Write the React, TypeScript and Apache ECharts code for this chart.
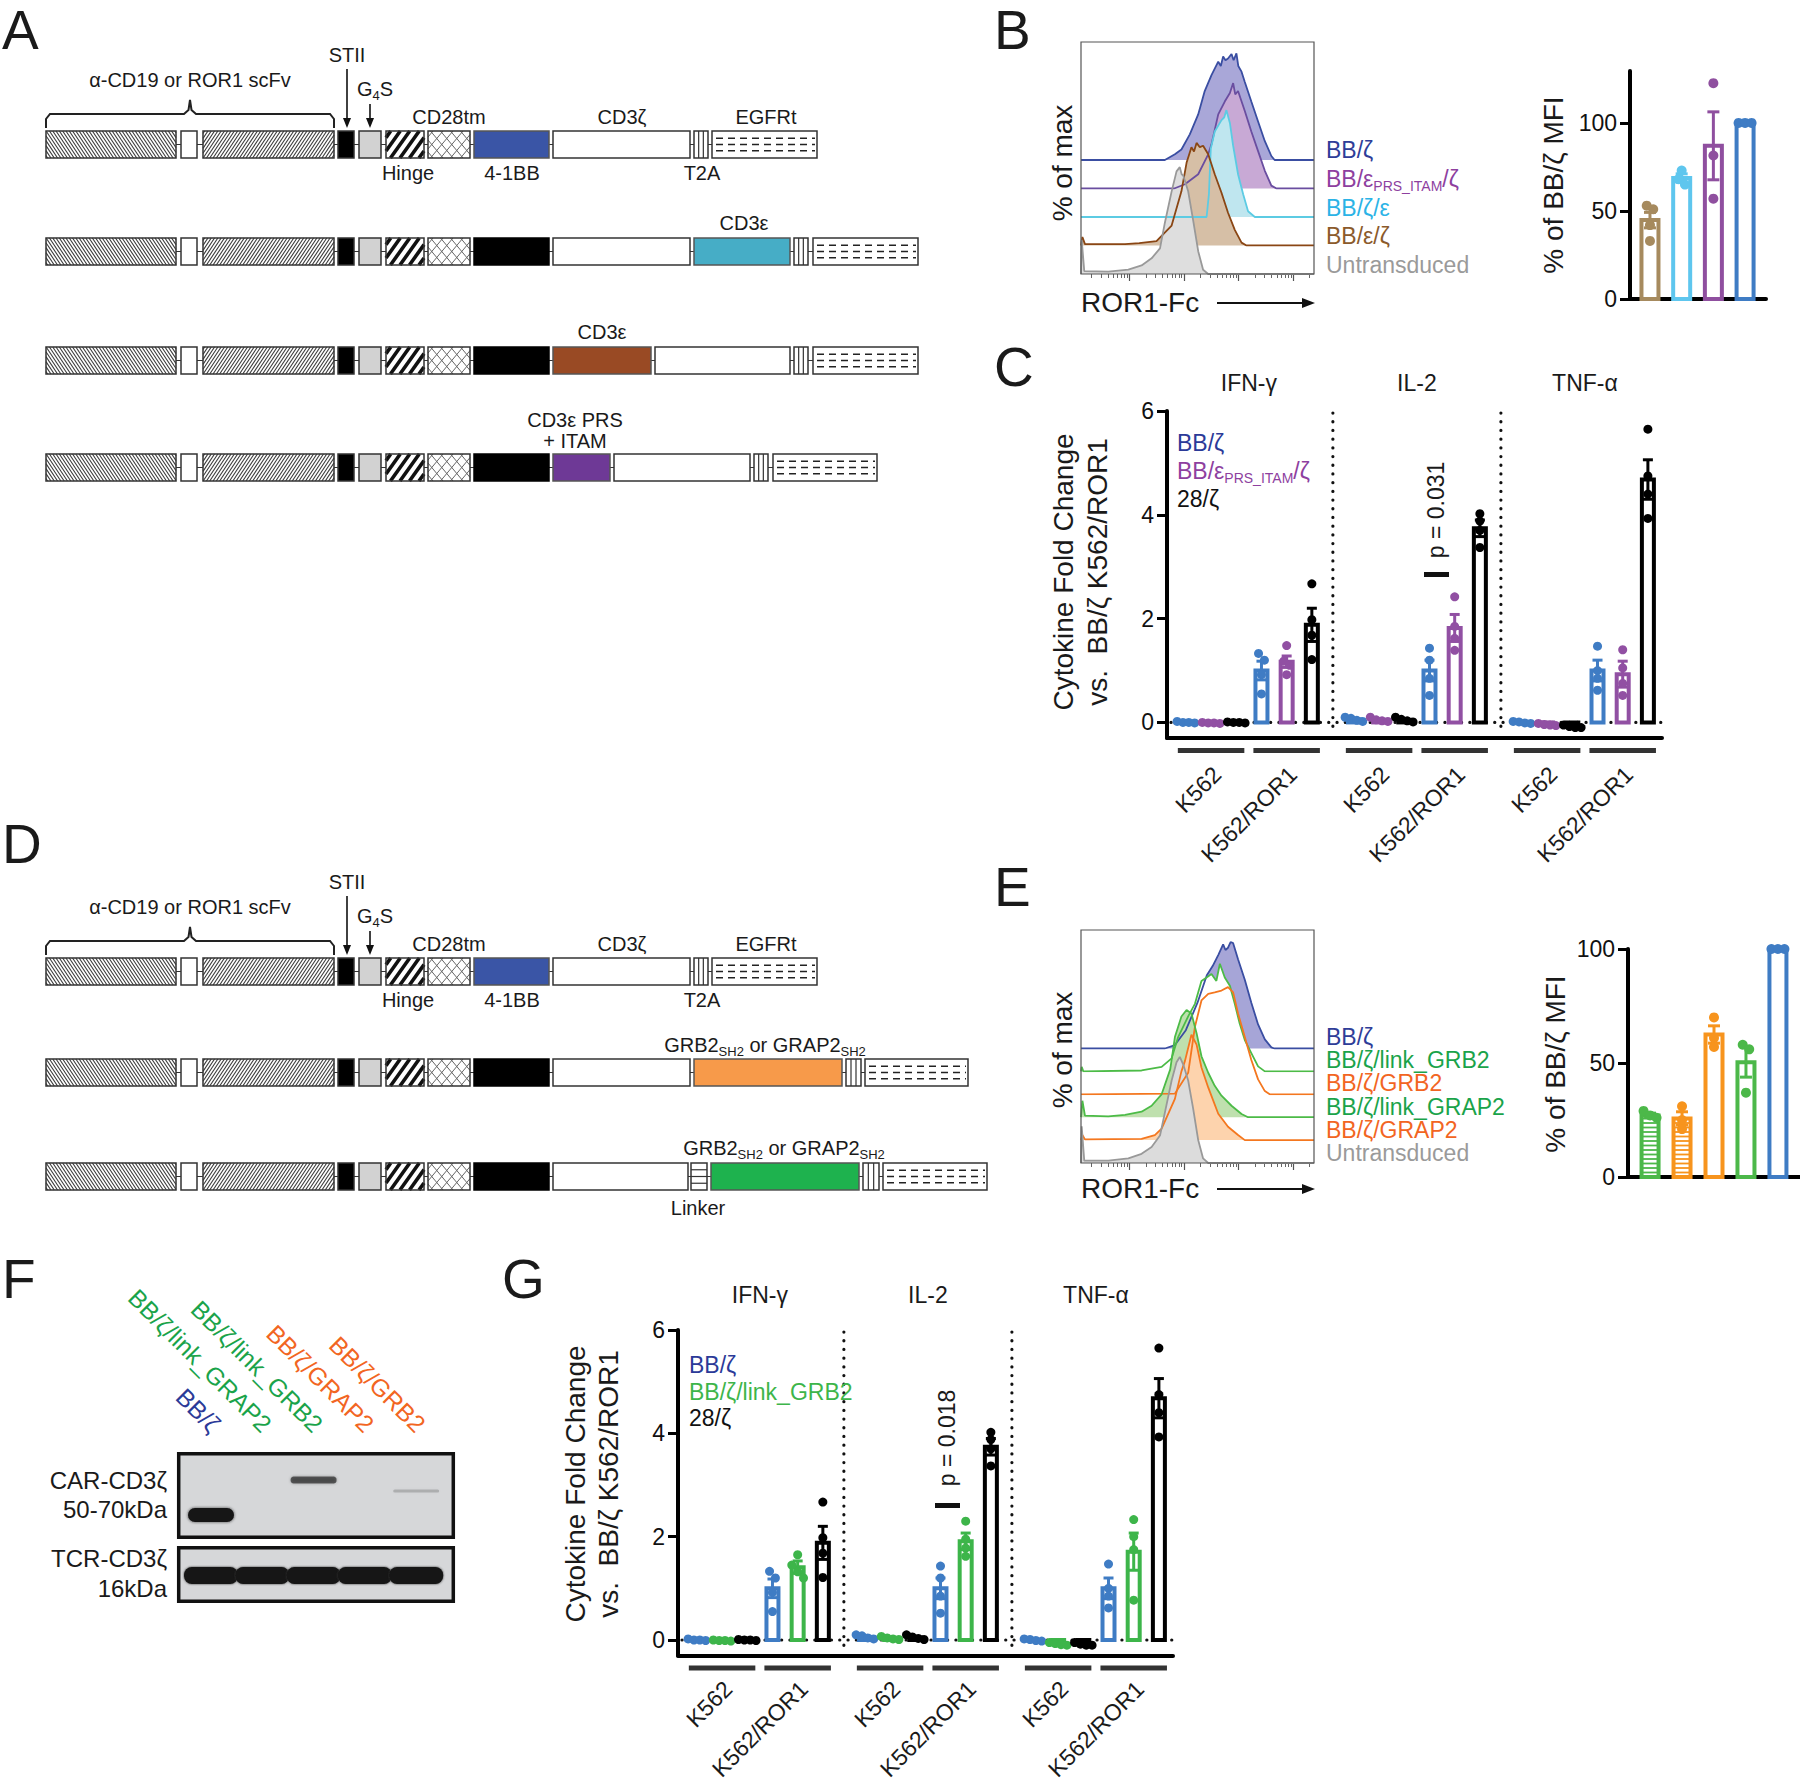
import React, { useEffect, useRef } from "react";
import * as echarts from "echarts";

const FONT = "'Liberation Sans', Arial, Helvetica, sans-serif";

// ================= DATA =================
// Panel B – ROR1-Fc histograms (channel 0-100, height in offset-steps)
const bLegend = ["BB/ζ", "BB/ε{s|PRS_ITAM}/ζ", "BB/ζ/ε", "BB/ε/ζ", "Untransduced"];
const bLegendColors = ["#2e3d98", "#8e3f9f", "#2bb3e6", "#8b5a2b", "#9a9a9a"];
const bHistBlue = [[0, 0], [36, 0], [40.3, 0.2], [43.1, 0.37], [46.7, 0.9], [50.3, 1.6], [53.1, 2.42], [56, 2.98], [58.9, 3.45], [60, 3.3], [61, 3.63], [62, 3.5], [63.1, 3.56], [64.6, 3.72], [65.5, 3.5], [66.7, 3.74], [67.5, 3.3], [68.9, 3.1], [70.3, 2.74], [73.1, 2.05], [76, 1.35], [78.9, 0.66], [81.7, 0.14], [83.1, 0], [100, 0]];
const bHistPurple = [[0, 0], [40, 0], [44.6, 0.15], [50.3, 0.5], [54.6, 1.2], [56, 1.55], [58.9, 2.6], [61.7, 3.05], [63.9, 3.35], [65.3, 3.7], [66.2, 3.3], [67.4, 3.42], [70.3, 2.72], [73.1, 2.0], [76, 1.31], [78.9, 0.62], [81.7, 0.1], [83.9, 0], [100, 0]];
const bHistCyan = [[0, 0], [53.9, 0], [54.9, 0.8], [55.7, 2.4], [57.4, 3.0], [60.3, 3.4], [61.5, 3.5], [62.4, 3.75], [63.9, 3.3], [65.3, 2.5], [67.4, 1.5], [69.6, 0.8], [71.7, 0.2], [74.6, 0], [100, 0]];
const bHistBrown = [[0, 0], [0.6, 0.3], [1.7, 0.05], [18.9, 0.05], [25, 0.08], [32.4, 0.15], [38.9, 0.7], [43.1, 1.9], [45.3, 2.9], [47.4, 3.45], [48.5, 3.3], [49.6, 3.6], [51, 3.45], [52.4, 3.5], [54.6, 3.2], [57.4, 2.5], [60.3, 1.85], [63.1, 1.15], [66, 0.55], [68.9, 0.1], [71, 0], [100, 0]];
const bHistGrey = [[0, 0], [0.3, 1.2], [1.4, 0.1], [11.7, 0.08], [20.3, 0.15], [26, 0.3], [30.3, 0.55], [33.9, 0.9], [36, 1.8], [38.9, 2.9], [41, 3.6], [42.4, 3.75], [43.2, 3.5], [43.9, 3.45], [46, 2.9], [48.1, 1.9], [50.3, 0.8], [52.4, 0.15], [54.6, 0], [100, 0]];

// Panel B – % of BB/ζ MFI
const bBarCats = ["BB/ε/ζ", "BB/ζ/ε", "BB/εPRS_ITAM/ζ", "BB/ζ"];
const bBarMeans = [44.8, 68.7, 87, 100];
const bBarSem = [4.4, 2.4, 19.3, 0];
const bBarDots = [[53, 51, 42, 33], [73, 68, 65], [122.6, 81.5, 57], [100, 100, 100]];
const bBarColors = ["#a68a5e", "#5ec6ee", "#8f4f9f", "#3f7cc4"];

// Panel C / G – cytokine fold change
const cytokines = ["IFN-γ", "IL-2", "TNF-α"];
const targetCells = ["K562", "K562/ROR1"];
const cConstructs = ["BB/ζ", "BB/εPRS_ITAM/ζ", "28/ζ"];
const cMeans = [0.01, -0.01, 0.0, 1.0, 1.17, 1.88, 0.06, 0.05, 0.05, 1.0, 1.82, 3.74, 0.0, -0.04, -0.08, 1.0, 0.93, 4.68];
const cSem = [0, 0, 0, 0.18, 0.11, 0.32, 0.02, 0.02, 0.02, 0.2, 0.26, 0.16, 0.01, 0.01, 0.01, 0.2, 0.25, 0.38];
const cDots = [
  [0.02, 0.0, 0.0, -0.01], [0.0, -0.01, -0.02, -0.01], [0.01, 0.0, -0.01, 0.0],
  [1.33, 1.2, 0.92, 0.55], [1.48, 1.18, 1.1, 0.92], [2.67, 1.98, 1.68, 1.21],
  [0.1, 0.08, 0.04, 0.02], [0.1, 0.05, 0.03, 0.02], [0.1, 0.06, 0.03, 0.01],
  [1.43, 1.2, 0.85, 0.52], [2.42, 1.85, 1.62, 1.39], [4.02, 3.88, 3.7, 3.37],
  [0.02, 0.01, -0.01, -0.02], [-0.02, -0.04, -0.05, -0.06], [-0.05, -0.08, -0.1, -0.1],
  [1.47, 1.0, 0.85, 0.62], [1.4, 1.05, 0.75, 0.52], [5.65, 4.75, 4.4, 3.93],
];
const gConstructs = ["BB/ζ", "BB/ζ/link_GRB2", "28/ζ"];
const gMeans = [0.0, -0.01, 0.0, 1.0, 1.41, 1.88, 0.06, 0.03, 0.05, 1.0, 1.91, 3.74, 0.0, -0.08, -0.08, 1.0, 1.71, 4.68];
const gSem = [0, 0, 0, 0.18, 0.12, 0.32, 0.02, 0.01, 0.02, 0.2, 0.16, 0.16, 0.01, 0.01, 0.01, 0.2, 0.36, 0.38];
const gDots = [
  [0.02, 0.0, 0.0, -0.01], [0.0, -0.01, -0.01, -0.02], [0.01, 0.0, -0.01, 0.0],
  [1.33, 1.2, 0.92, 0.55], [1.65, 1.45, 1.32, 1.2], [2.67, 1.98, 1.68, 1.21],
  [0.1, 0.08, 0.04, 0.02], [0.07, 0.04, 0.02, 0.01], [0.1, 0.06, 0.03, 0.01],
  [1.43, 1.2, 0.85, 0.52], [2.3, 1.95, 1.78, 1.62], [4.02, 3.88, 3.7, 3.37],
  [0.02, 0.01, -0.01, -0.02], [-0.05, -0.07, -0.09, -0.1], [-0.05, -0.08, -0.1, -0.1],
  [1.47, 1.0, 0.85, 0.62], [2.33, 2.0, 1.75, 0.77], [5.65, 4.75, 4.4, 3.93],
];
const cYTicks = [0, 2, 4, 6];

// Panel E – histograms
const eLegend = ["BB/ζ", "BB/ζ/link_GRB2", "BB/ζ/GRB2", "BB/ζ/link_GRAP2", "BB/ζ/GRAP2", "Untransduced"];
const eLegendColors = ["#2e3d98", "#1aa34a", "#f26522", "#1aa34a", "#f26522", "#9a9a9a"];
const eHistBlue = [[0, 0], [36, 0], [40.3, 0.15], [45, 0.8], [50, 2.0], [54, 3.2], [56.5, 3.6], [59, 4.1], [61, 4.55], [62, 4.3], [63.1, 4.4], [64.2, 4.65], [65.3, 4.6], [67.4, 3.9], [70.3, 3.0], [73.1, 2.0], [76, 1.05], [78.9, 0.4], [81.7, 0.05], [83, 0], [100, 0]];
const eHistLinkGrb2 = [[0, 0], [0.3, 0.2], [1, 0], [26, 0.04], [34.6, 0.2], [38.9, 0.57], [41.7, 1.5], [46, 2.4], [48.9, 2.95], [51.7, 3.95], [53.9, 4.1], [56, 4.25], [58.1, 3.95], [59.6, 4.7], [61.7, 4.1], [63.9, 3.74], [66, 2.95], [68.1, 2.09], [70.3, 1.37], [73.1, 0.8], [76, 0.22], [78.9, 0], [100, 0]];
const eHistGrb2 = [[0, 0], [40.3, 0.03], [46, 0.94], [48.9, 2.95], [51.7, 4.1], [54.6, 4.39], [57.4, 4.45], [60.3, 4.53], [63.1, 4.68], [65.3, 4.45], [67.4, 3.53], [70.3, 2.5], [73.1, 1.5], [76, 0.65], [78.9, 0.14], [81, 0], [100, 0]];
const eHistLinkGrap2 = [[0, 0], [0.6, 0.72], [1.7, 0.07], [11.7, 0.04], [18.9, 0.1], [26, 0.24], [30.3, 0.5], [34.6, 1.0], [38.3, 2.09], [40.3, 3.5], [43.1, 4.4], [45.3, 4.68], [47.4, 4.53], [49.6, 3.67], [51.7, 2.66], [54.6, 1.94], [57.4, 1.37], [60.3, 0.94], [64.6, 0.5], [68.9, 0.14], [71.7, 0], [100, 0]];
const eHistGrap2 = [[0, 0], [0.6, 0.22], [1.7, 0.03], [26, 0.05], [31.7, 0.22], [34.6, 0.5], [40.3, 1.8], [43.1, 3.0], [44.6, 3.45], [47.4, 4.6], [49.6, 4.17], [51.7, 3.17], [54.6, 2.3], [58.9, 1.15], [63.1, 0.58], [67.4, 0.22], [70.3, 0], [100, 0]];
const eHistGrey = [[0, 0], [0.3, 1.6], [1.4, 0.1], [11.7, 0.1], [20.3, 0.2], [26, 0.4], [30.3, 0.7], [33.9, 1.2], [36, 2.2], [38.9, 3.6], [41, 4.4], [42.4, 4.63], [43.9, 4.3], [46, 3.6], [48.1, 2.4], [50.3, 1.0], [52.4, 0.2], [54.6, 0], [100, 0]];

// Panel E – % of BB/ζ MFI
const eBarCats = ["BB/ζ/link_GRAP2", "BB/ζ/GRAP2", "BB/ζ/GRB2", "BB/ζ/link_GRB2", "BB/ζ"];
const eBarMeans = [27, 25.7, 62.5, 50.3, 100];
const eBarSem = [1, 2.9, 3.8, 6.5, 0];
const eBarDots = [[29, 27, 26], [31, 25, 21], [70, 61, 57], [58, 56, 37], [100, 100, 100]];
const eBarColors = ["#4cb849", "#f7941d", "#f7941d", "#4cb849", "#3f7cc4"];
const eBarHatched = [true, true, false, false, false];

// Panel F – western blot
const blotLanes = ["BB/ζ", "BB/ζ/link_GRAP2", "BB/ζ/link_GRB2", "BB/ζ/GRAP2", "BB/ζ/GRB2"];
const blotLaneColors = ["#2b3a98", "#1aa34a", "#1aa34a", "#f26522", "#f26522"];
const carBandIntensity = [1.0, 0.0, 0.6, 0.0, 0.18];
const carBandY = [1515, 0, 1480, 0, 1491];

// ================= HELPERS =================
function T(text: string, x: number, y: number, o: any = {}) {
  const align = o.align || "center";
  const va = o.va || "middle";
  return {
    type: "text", x, y, rotation: o.rot || 0, z: 60, silent: true,
    style: {
      text, fill: o.color || "#1a1a1a", fontSize: o.size || 20, fontFamily: FONT,
      fontWeight: o.weight || "normal", textAlign: align, textVerticalAlign: va, align, verticalAlign: va,
      rich: o.rich,
    },
  };
}
function subRich(size: number, color: string, drop: number, family = FONT) {
  return { s: { fontSize: size, fill: color, color, fontFamily: family, padding: [drop, 0, 0, 0] } };
}
function L(x1: number, y1: number, x2: number, y2: number, stroke: string, lw: number, extra: any = {}) {
  return { type: "line", silent: true, z: extra.z ?? 42, shape: { x1, y1, x2, y2 }, style: { stroke, lineWidth: lw, ...extra.style } };
}
function R(x: number, y: number, w: number, h: number, style: any, z = 40, r = 0) {
  return { type: "rect", silent: true, z, shape: { x, y, width: w, height: h, r }, style };
}
function hatch(x: number, y: number, w: number, h: number, dir: number, k: number, dx: number, lw: number, color: string) {
  const out: any[] = [];
  if (dir === 1) {
    for (let t = dx * k * 0.5; t < k * w + h; t += dx * k) {
      const u1 = Math.max(0, (t - h) / k), u2 = Math.min(w, t / k);
      if (u2 <= u1) continue;
      out.push(L(x + u1, y + t - k * u1, x + u2, y + t - k * u2, color, lw));
    }
  } else {
    for (let t = -h + dx * k * 0.5; t < k * w; t += dx * k) {
      const u1 = Math.max(0, t / k), u2 = Math.min(w, (t + h) / k);
      if (u2 <= u1) continue;
      out.push(L(x + u1, y + k * u1 - t, x + u2, y + k * u2 - t, color, lw));
    }
  }
  return out;
}

// ================= CONSTRUCT DIAGRAMS =================
const DOM_H = 27;
const commonDomains: any[] = [["VL", 46, 176], ["link", 181, 197], ["VH", 203, 334], ["STII", 338, 354], ["G4S", 359, 381], ["hinge", 386, 424], ["tm", 428, 470]];
const tailRow1 = [["fill", 474, 549, "#3a55a6"], ["z", 553, 690], ["t2a", 694, 708], ["egfr", 712, 817]];
const constructRows: any[] = [
  { y: 131, tail: tailRow1 },
  { y: 238, tail: [["fill", 474, 549, "#000"], ["z", 553, 690], ["fill", 694, 790, "#46adc6"], ["t2a", 794, 808], ["egfr", 813, 918]] },
  { y: 347, tail: [["fill", 474, 549, "#000"], ["fill", 553, 651, "#994a24"], ["z", 655, 790], ["t2a", 794, 808], ["egfr", 813, 918]] },
  { y: 454, tail: [["fill", 474, 549, "#000"], ["fill", 553, 610, "#6e3996"], ["z", 614, 750], ["t2a", 754, 768], ["egfr", 773, 877]] },
  { y: 958, tail: tailRow1 },
  { y: 1059, tail: [["fill", 474, 549, "#000"], ["z", 553, 690], ["fill", 694, 842, "#f79a4a"], ["t2a", 846, 861], ["egfr", 865, 968]] },
  { y: 1163, tail: [["fill", 474, 549, "#000"], ["z", 553, 688], ["linker", 691, 707], ["fill", 711, 859, "#1eb24e"], ["t2a", 863, 879], ["egfr", 883, 987]] },
];

function drawDomain(els: any[], d: any[], y: number) {
  const [kind, x0, x1, color] = d;
  const w = x1 - x0, h = DOM_H;
  let fill = "#fff";
  if (kind === "STII") fill = "#000";
  else if (kind === "G4S") fill = "#d2d2d2";
  else if (kind === "fill") fill = color;
  els.push(R(x0, y, w, h, { fill }, 41));
  if (kind === "VL") els.push(...hatch(x0, y, w, h, -1, 1.5, 3.3, 1.1, "#3a3a3a"));
  if (kind === "VH") els.push(...hatch(x0, y, w, h, 1, 1.5, 3.3, 1.1, "#3a3a3a"));
  if (kind === "hinge") els.push(...hatch(x0, y, w, h, 1, 1.4, 9.5, 3.6, "#111"));
  if (kind === "tm") {
    els.push(...hatch(x0, y, w, h, 1, 1.2, 10, 1, "#666"));
    els.push(...hatch(x0, y, w, h, -1, 1.2, 10, 1, "#666"));
  }
  if (kind === "t2a") {
    els.push(L(x0 + w / 3, y, x0 + w / 3, y + h, "#333", 1.2));
    els.push(L(x0 + (2 * w) / 3, y, x0 + (2 * w) / 3, y + h, "#333", 1.2));
  }
  if (kind === "linker") {
    [0.25, 0.5, 0.75].forEach((f) => els.push(L(x0, y + h * f, x1, y + h * f, "#333", 1.2)));
  }
  if (kind === "egfr") {
    [0.27, 0.5, 0.73].forEach((f) => els.push(L(x0 + 4, y + h * f, x1 - 2, y + h * f, "#222", 1.6, { style: { lineDash: [7, 5] } })));
  }
  const stroke = kind === "fill" ? (color === "#000" ? "#000" : "#555") : "#333";
  els.push(R(x0, y, w, h, { fill: "none", stroke, lineWidth: 1.5 }, 45));
}

function drawConstructs(els: any[]) {
  constructRows.forEach((row) => {
    const doms = [...commonDomains, ...row.tail];
    const xEnd = doms[doms.length - 1][2];
    els.push(L(46, row.y + DOM_H / 2, xEnd, row.y + DOM_H / 2, "#333", 1.2, { z: 39 }));
    doms.forEach((d) => drawDomain(els, d, row.y));
  });
  const sub = subRich(13, "#1a1a1a", 12);
  [0, 827].forEach((dy) => {
    els.push({
      type: "polyline", silent: true, z: 40,
      shape: { points: [[46, 128 + dy], [46, 119 + dy], [50, 114 + dy], [184, 114 + dy], [188.5, 110 + dy], [190, 100 + dy], [191.5, 110 + dy], [196, 114 + dy], [330, 114 + dy], [334, 119 + dy], [334, 128 + dy]] },
      style: { stroke: "#222", lineWidth: 2, fill: "none" },
    });
    els.push(T("α-CD19 or ROR1 scFv", 190, 80 + dy, { size: 20 }));
    els.push(T("STII", 347, 55 + dy, { size: 20 }));
    els.push(L(347, 69 + dy, 347, 121 + dy, "#111", 1.6));
    els.push({ type: "polygon", silent: true, z: 40, shape: { points: [[343, 118 + dy], [351, 118 + dy], [347, 128 + dy]] }, style: { fill: "#111" } });
    els.push(T("G{s|4}S", 375, 89 + dy, { size: 20, rich: sub }));
    els.push(L(370, 104 + dy, 370, 121 + dy, "#111", 1.6));
    els.push({ type: "polygon", silent: true, z: 40, shape: { points: [[366, 118 + dy], [374, 118 + dy], [370, 128 + dy]] }, style: { fill: "#111" } });
    els.push(T("CD28tm", 449, 117 + dy, { size: 20 }));
    els.push(T("CD3ζ", 622, 117 + dy, { size: 20 }));
    els.push(T("EGFRt", 766, 117 + dy, { size: 20 }));
    els.push(T("Hinge", 408, 173 + dy, { size: 20 }));
    els.push(T("4-1BB", 512, 173 + dy, { size: 20 }));
    els.push(T("T2A", 702, 173 + dy, { size: 20 }));
  });
  els.push(T("CD3ε", 744, 223, { size: 20 }));
  els.push(T("CD3ε", 602, 332, { size: 20 }));
  els.push(T("CD3ε PRS", 575, 420, { size: 20 }));
  els.push(T("+ ITAM", 575, 441, { size: 20 }));
  els.push(T("GRB2{s|SH2} or GRAP2{s|SH2}", 765, 1045, { size: 20, rich: sub }));
  els.push(T("GRB2{s|SH2} or GRAP2{s|SH2}", 784, 1148, { size: 20, rich: sub }));
  els.push(T("Linker", 698, 1208, { size: 20 }));
}

// ================= OPTION BUILD =================
function buildOption() {
  const grids: any[] = [];
  const xAxes: any[] = [];
  const yAxes: any[] = [];
  const series: any[] = [];
  const els: any[] = [];

  const addGrid = (rect: any, xa: any, ya: any) => {
    grids.push({ ...rect, containLabel: false, show: false });
    const gi = grids.length - 1;
    xAxes.push({ position: "bottom", ...xa, gridIndex: gi });
    yAxes.push({ position: "left", ...ya, gridIndex: gi });
    return { gi, xi: xAxes.length - 1, yi: yAxes.length - 1 };
  };
  const hid = (min: number, max: number) => ({ type: "value", min, max, show: false });

  // ---- Histogram panels ----
  const LOG_MIN = 1.109, LOG_MAX = 5.38;
  const majors = [2, 3, 4, 5];
  const minors: number[] = [];
  for (let d = 1; d <= 5; d++) for (let m = 2; m <= 9; m++) {
    const v = d + Math.log10(m);
    if (v > LOG_MIN && v < LOG_MAX) minors.push(v);
  }
  const addHist = (box: any, step: number, traces: any[]) => {
    traces.forEach((tr) => {
      const base = box.y + box.h - tr.level * step;
      const hmax = 5;
      const a = addGrid({ left: box.x, top: base - hmax * step, width: box.w, height: hmax * step }, hid(0, 100), hid(0, hmax));
      series.push({
        type: "line", xAxisIndex: a.xi, yAxisIndex: a.yi, data: tr.data, symbol: "none", showSymbol: false,
        silent: true, z: 2, lineStyle: { color: tr.line, width: 1.8 }, itemStyle: { color: tr.line },
        areaStyle: { color: tr.fill, opacity: 1 },
      });
    });
    const f = addGrid({ left: box.x, top: box.y, width: box.w, height: box.h }, {
      type: "value", min: LOG_MIN, max: LOG_MAX, position: "bottom", axisLine: { show: false, onZero: false }, axisLabel: { show: false }, splitLine: { show: false },
      axisTick: { show: true, length: 7, customValues: majors, lineStyle: { color: "#555", width: 1.2 } },
    }, hid(0, 1));
    xAxes.push({
      gridIndex: f.gi, type: "value", min: LOG_MIN, max: LOG_MAX, position: "bottom", offset: 0, axisLine: { show: false, onZero: false }, axisLabel: { show: false }, splitLine: { show: false },
      axisTick: { show: true, length: 4, customValues: minors, lineStyle: { color: "#666", width: 1 } },
    });
    els.push(R(box.x, box.y, box.w, box.h, { fill: "none", stroke: "#555", lineWidth: 1.2 }, 55));
  };

  addHist({ x: 1081, y: 42, w: 233, h: 232 }, 28.5, [
    { level: 4, data: bHistBlue, line: "#3a4ea2", fill: "#a9a7d8" },
    { level: 3, data: bHistPurple, line: "#6a4ea0", fill: "#c8a9d5" },
    { level: 2, data: bHistCyan, line: "#5ccbe3", fill: "#bfe6ef" },
    { level: 1, data: bHistBrown, line: "#8a4614", fill: "#d6bfa6" },
    { level: 0, data: bHistGrey, line: "#999999", fill: "#dedede" },
  ]);
  addHist({ x: 1081, y: 930, w: 233, h: 233 }, 22.9, [
    { level: 5, data: eHistBlue, line: "#3a4ea2", fill: "#a6a5d7" },
    { level: 4, data: eHistLinkGrb2, line: "#4cbb47", fill: "#ffffff" },
    { level: 3, data: eHistGrb2, line: "#f4771f", fill: "#ffffff" },
    { level: 2, data: eHistLinkGrap2, line: "#4cbb47", fill: "#bfe0ae" },
    { level: 1, data: eHistGrap2, line: "#f4771f", fill: "#fdd3ad" },
    { level: 0, data: eHistGrey, line: "#999999", fill: "#dcdcdc" },
  ]);

  // ---- Bar panels ----
  const barY = (min: number, max: number, ticks: number[], lw: number) => ({
    type: "value", min, max,
    axisLine: { show: true, onZero: false, lineStyle: { color: "#000", width: lw } },
    axisTick: { show: true, length: 10, inside: false, customValues: ticks, lineStyle: { color: "#000", width: 3 } },
    axisLabel: { show: true, customValues: ticks, margin: 13, color: "#111", fontSize: 23, fontFamily: FONT },
    splitLine: { show: false },
  });
  const barX = (min: number, max: number, lw: number) => ({
    type: "value", min, max,
    axisLine: { show: true, onZero: false, lineStyle: { color: "#000", width: lw } },
    axisTick: { show: false }, axisLabel: { show: false }, splitLine: { show: false },
  });

  const barSeries = (a: any, xPos: number[], means: number[], sems: number[], dots: number[][], colors: string[], geo: any) => ({
    type: "custom", xAxisIndex: a.xi, yAxisIndex: a.yi, z: 6, silent: true, clip: false,
    data: means.map((m, i) => [xPos[i], m, sems[i]]),
    renderItem: (params: any, api: any) => {
      const i = params.dataIndex;
      const x = api.value(0), m = api.value(1), s = api.value(2);
      const c = colors[i];
      const p0 = api.coord([x, 0]), p1 = api.coord([x, m]);
      const cx = p0[0];
      const half = geo.barW / 2 - geo.lw / 2;
      const top = Math.min(p0[1], p1[1]), bot = Math.max(p0[1], p1[1]);
      const ch: any[] = [];
      ch.push({ type: "rect", shape: { x: cx - half, y: top, width: half * 2, height: Math.max(bot - top, 0.5) }, style: { fill: "#fff", stroke: c, lineWidth: geo.lw } });
      if (geo.hatched && geo.hatched[i]) {
        for (let yy = bot - geo.hatchGap; yy > top + 1; yy -= geo.hatchGap) {
          ch.push({ type: "line", shape: { x1: cx - half, y1: yy, x2: cx + half, y2: yy }, style: { stroke: c, lineWidth: 1.8 } });
        }
      }
      if (s > 0) {
        const yh = api.coord([x, m + s])[1], yl = api.coord([x, m - s])[1], cw = geo.capW / 2;
        const st = { stroke: c, lineWidth: geo.elw };
        ch.push({ type: "line", shape: { x1: cx, y1: yl, x2: cx, y2: yh }, style: st });
        ch.push({ type: "line", shape: { x1: cx - cw, y1: yh, x2: cx + cw, y2: yh }, style: st });
        ch.push({ type: "line", shape: { x1: cx - cw, y1: yl, x2: cx + cw, y2: yl }, style: st });
      }
      const pts = dots[i].map((v) => api.coord([x, v])[1]).sort((p, q) => p - q);
      let j = 0;
      while (j < pts.length) {
        let k = j;
        while (k + 1 < pts.length && pts[k + 1] - pts[k] < geo.dotR * 1.6) k++;
        const n = k - j + 1;
        for (let q = 0; q < n; q++) {
          const dx = (q - (n - 1) / 2) * geo.dotR * 1.3;
          ch.push({ type: "circle", shape: { cx: cx + dx, cy: pts[j + q], r: geo.dotR }, style: { fill: c } });
        }
        j = k + 1;
      }
      return { type: "group", children: ch };
    },
  });

  // Panel B bar
  const bA = addGrid({ left: 1630, top: 71, width: 136, height: 228 }, barX(-0.63, 3.66, 4), barY(0, 129.5, [0, 50, 100], 4));
  series.push(barSeries(bA, bBarCats.map((_, i) => i), bBarMeans, bBarSem, bBarDots, bBarColors, { barW: 21, lw: 4, capW: 12, elw: 3, dotR: 5 }));
  // Panel E bar
  const eA = addGrid({ left: 1628, top: 949, width: 172, height: 228 }, barX(-0.69, 4.69, 4), barY(0, 100, [0, 50, 100], 4));
  series.push(barSeries(eA, eBarCats.map((_, i) => i), eBarMeans, eBarSem, eBarDots, eBarColors, { barW: 21, lw: 4, capW: 12, elw: 3, dotR: 5, hatched: eBarHatched, hatchGap: 4.5 }));

  // Panels C and G
  const X_MIN = -0.75, X_MAX = 18.9, STRIDE = 6.67;
  const pos = cMeans.map((_, i) => Math.floor(i / 6) * STRIDE + (i % 6));
  const decor = (a: any, titleDy: number, labDy: number) => ({
    type: "custom", xAxisIndex: a.xi, yAxisIndex: a.yi, z: 3, silent: true, clip: false,
    data: cytokines.map((_, g) => [g * STRIDE]),
    renderItem: (params: any, api: any) => {
      const g = params.dataIndex;
      const x0 = api.value(0);
      const ch: any[] = [];
      const yTop = api.coord([x0, 6])[1];
      const yZero = api.coord([x0, 0])[1];
      const yBot = api.coord([x0, -0.2])[1];
      const dotStyle = (gap: number) => ({ stroke: "#111", lineWidth: 3.2, lineDash: [0.1, gap], lineCap: "round" });
      ch.push({ type: "text", x: api.coord([x0 + 2.5, 0])[0], y: yTop - titleDy, style: { text: cytokines[g], fontSize: 23, fontFamily: FONT, fill: "#1a1a1a", textAlign: "center", align: "center", textVerticalAlign: "middle", verticalAlign: "middle" } });
      if (g === 0) {
        const xl = api.coord([X_MIN, 0])[0] + 4, xr = api.coord([X_MAX, 0])[0];
        ch.push({ type: "line", shape: { x1: xl, y1: yZero, x2: xr, y2: yZero }, style: dotStyle(8.2) });
      } else {
        const xs = api.coord([x0 - 0.835, 0])[0];
        ch.push({ type: "line", shape: { x1: xs, y1: yTop + 2, x2: xs, y2: yBot }, style: dotStyle(8.6) });
      }
      targetCells.forEach((lab, t) => {
        const xl = api.coord([x0 + t * 3 - 0.32, 0])[0], xr = api.coord([x0 + t * 3 + 2.32, 0])[0];
        ch.push({ type: "line", shape: { x1: xl, y1: yZero + 28, x2: xr, y2: yZero + 28 }, style: { stroke: "#333", lineWidth: 5 } });
        const xc = api.coord([x0 + t * 3 + 1, 0])[0];
        ch.push({ type: "text", x: xc - 2, y: yZero + labDy, rotation: Math.PI / 4, style: { text: lab, fontSize: 23, fontFamily: FONT, fill: "#1a1a1a", textAlign: "right", align: "right", textVerticalAlign: "top", verticalAlign: "top" } });
      });
      return { type: "group", children: ch };
    },
  });
  const cgGeo = { barW: 16, lw: 4, capW: 10, elw: 3, dotR: 4.5 };
  const cA = addGrid({ left: 1167, top: 411, width: 495, height: 327 }, barX(X_MIN, X_MAX, 4), barY(-0.3, 6, cYTicks, 4));
  series.push(decor(cA, 28, 40));
  series.push(barSeries(cA, pos, cMeans, cSem, cDots, pos.map((_, i) => ["#3f7cc4", "#9150a3", "#000"][i % 3]), cgGeo));
  const gA = addGrid({ left: 678, top: 1330, width: 495, height: 325.5 }, barX(X_MIN, X_MAX, 4), barY(-0.3, 6, cYTicks, 4));
  series.push(decor(gA, 35, 37));
  series.push(barSeries(gA, pos, gMeans, gSem, gDots, pos.map((_, i) => ["#3f7cc4", "#3db54a", "#000"][i % 3]), cgGeo));

  // ---- Texts & decorations ----
  drawConstructs(els);
  [["A", 2, 2, "top"], ["B", 994, 2, "top"], ["C", 994, 367, "middle"], ["D", 2, 844, "middle"], ["E", 994, 887, "middle"], ["F", 2, 1279, "middle"], ["G", 502, 1279, "middle"]].forEach(([s, x, y, va]: any) =>
    els.push(T(s, x, y, { size: 55, align: "left", va }))
  );
  [[163, 302, 150, bLegend, bLegendColors, 28.8], [1050, 1188, 1037, eLegend, eLegendColors, 23.2]].forEach(([ymid, yAx, y0, labs, cols, dy]: any) => {
    els.push(T("% of max", 1062, ymid, { size: 28, rot: Math.PI / 2 }));
    els.push(T("ROR1-Fc", 1081, yAx, { size: 28, align: "left" }));
    els.push(L(1217, yAx + 1, 1306, yAx + 1, "#111", 2));
    els.push({ type: "polygon", silent: true, z: 60, shape: { points: [[1302, yAx - 4], [1315, yAx + 1], [1302, yAx + 6]] }, style: { fill: "#111" } });
    labs.forEach((lab: string, i: number) =>
      els.push(T(lab, 1326, y0 + i * dy, { size: 23, align: "left", color: cols[i], rich: subRich(14, cols[i], 14) }))
    );
  });
  els.push(T("% of BB/ζ MFI", 1553, 185, { size: 28, rot: Math.PI / 2 }));
  els.push(T("% of BB/ζ MFI", 1555, 1064, { size: 28, rot: Math.PI / 2 }));

  // C labels
  els.push(T("Cytokine Fold Change", 1063, 572, { size: 28, rot: Math.PI / 2 }));
  els.push(T("vs.  BB/ζ K562/ROR1", 1097, 572, { size: 28, rot: Math.PI / 2 }));
  const cLegCols = ["#2b3a98", "#8e3f9f", "#111"];
  ["BB/ζ", "BB/ε{s|PRS_ITAM}/ζ", "28/ζ"].forEach((s, i) =>
    els.push(T(s, 1177, 443 + i * 28, { size: 23, align: "left", color: cLegCols[i], rich: subRich(14, cLegCols[i], 14) }))
  );
  els.push(T("p = 0.031", 1436, 510, { size: 23, rot: Math.PI / 2 }));
  els.push(R(1424, 572, 25, 5, { fill: "#111" }, 60));
  // G labels
  els.push(T("Cytokine Fold Change", 575, 1484, { size: 28, rot: Math.PI / 2 }));
  els.push(T("vs.  BB/ζ K562/ROR1", 608, 1484, { size: 28, rot: Math.PI / 2 }));
  const gLegCols = ["#2b3a98", "#3db54a", "#111"];
  gConstructs.forEach((s, i) => els.push(T(s, 689, 1365 + i * 26.5, { size: 23, align: "left", color: gLegCols[i] })));
  els.push(T("p = 0.018", 947, 1438, { size: 23, rot: Math.PI / 2 }));
  els.push(R(935, 1503, 25, 5, { fill: "#111" }, 60));

  // ---- Panel F blot ----
  els.push(R(178.7, 1453.7, 274.6, 83.6, { fill: "#d6d7d9", stroke: "#111", lineWidth: 3.5 }, 40));
  els.push(R(178.7, 1547.7, 274.6, 53.6, { fill: "#d6d7d9", stroke: "#111", lineWidth: 3.5 }, 40));
  const laneX = blotLanes.map((_, i) => 211 + i * 51.3);
  blotLanes.forEach((lab, i) => {
    els.push(T(lab, laneX[i] - 4, 1437, { size: 24.5, align: "right", va: "bottom", rot: -Math.PI / 4, color: blotLaneColors[i] }));
    const a = carBandIntensity[i];
    if (a > 0) {
      const h = a > 0.8 ? 14 : a > 0.4 ? 7 : 3;
      els.push(R(laneX[i] - 23, carBandY[i] - h / 2, 46, h, { fill: `rgba(20,20,20,${a})`, shadowBlur: 3, shadowColor: `rgba(20,20,20,${a * 0.8})` }, 45, h / 2));
    }
    els.push(R(laneX[i] - 27, 1567, 54, 17, { fill: "#141414", shadowBlur: 2, shadowColor: "#333" }, 45, 8));
  });
  els.push(T("CAR-CD3ζ", 167, 1480, { size: 24, align: "right" }));
  els.push(T("50-70kDa", 167, 1509, { size: 24, align: "right" }));
  els.push(T("TCR-CD3ζ", 167, 1558, { size: 24, align: "right" }));
  els.push(T("16kDa", 167, 1588, { size: 24, align: "right" }));

  return {
    animation: false,
    backgroundColor: "#ffffff",
    textStyle: { fontFamily: FONT },
    grid: grids,
    xAxis: xAxes,
    yAxis: yAxes,
    series,
    graphic: { elements: els },
  };
}

export default function App() {
  const ref = useRef<HTMLDivElement>(null);
  useEffect(() => {
    const chart = echarts.init(ref.current as HTMLDivElement, null, { renderer: "svg", width: 1800, height: 1782 });
    chart.setOption(buildOption() as any);
    return () => chart.dispose();
  }, []);
  return <div ref={ref} style={{ position: "absolute", left: 0, top: 0, width: 1800, height: 1782, background: "#fff" }} />;
}
